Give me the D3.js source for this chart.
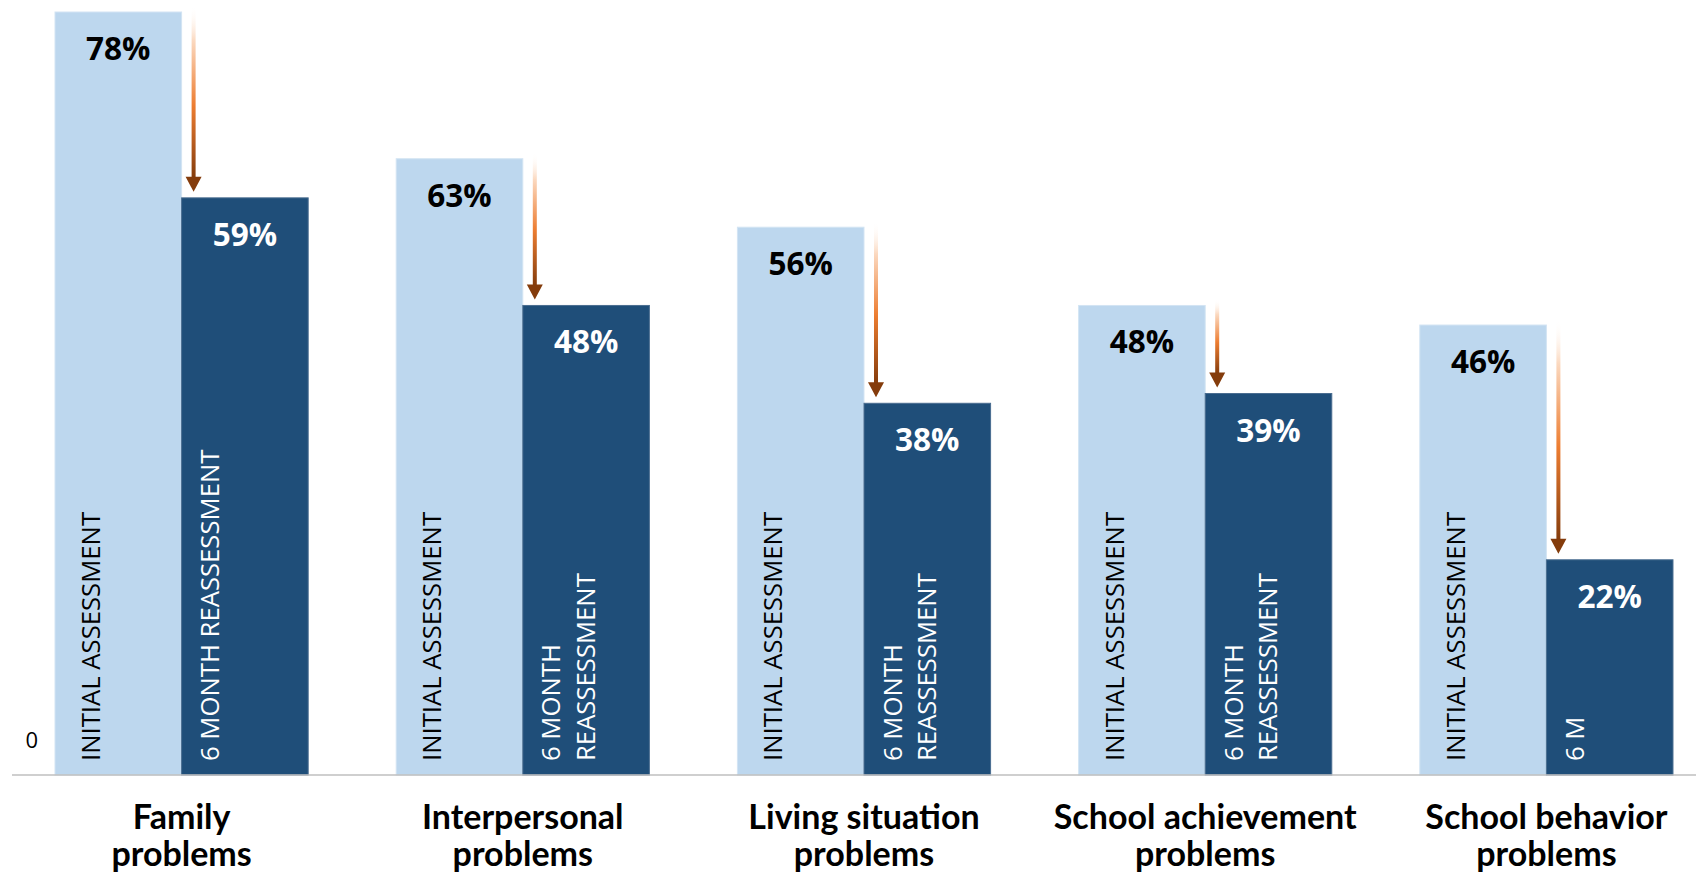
<!DOCTYPE html>
<html>
<head>
<meta charset="utf-8">
<script src="https://cdn.jsdelivr.net/npm/d3@7"></script>
<style>
  html, body { margin: 0; padding: 0; background: #ffffff; }
  svg { display: block; }
</style>
</head>
<body>
<svg id="chart" width="1696" height="873"></svg>
<script>
// Problem areas, assessed at intake and again after six months (percent of youth)
const categories = [
  "Family problems",
  "Interpersonal problems",
  "Living situation problems",
  "School achievement problems",
  "School behavior problems"
];
const categoryLines = [
  ["Family", "problems"],
  ["Interpersonal", "problems"],
  ["Living situation", "problems"],
  ["School achievement", "problems"],
  ["School behavior", "problems"]
];
const initialValues = [78, 63, 56, 48, 46];
const reassessValues = [59, 48, 38, 39, 22];
const seriesKeys = ["initial", "reassess"];
const initialLabel = "INITIAL ASSESSMENT";
// The in-bar series name wraps (or is cut off) where the bar is short
const reassessLabelLines = [
  ["6 MONTH REASSESSMENT"],
  ["6 MONTH", "REASSESSMENT"],
  ["6 MONTH", "REASSESSMENT"],
  ["6 MONTH", "REASSESSMENT"],
  ["6 M"]
];
const yTickValues = [0];

const svg = d3.select("#chart");
const baseY = 775;

const x0 = d3.scaleBand()
  .domain(categories)
  .range([11, 1717])
  .paddingInner(0.258)
  .paddingOuter(0.129);

const x1 = d3.scaleBand()
  .domain(seriesKeys)
  .range([0, x0.bandwidth()])
  .padding(0);

const y = d3.scaleLinear()
  .domain([0, 78])
  .range([baseY, 12]);

const colors = { initial: "#BDD7EE", reassess: "#1F4E79" };
const edge = { initial: "#d3e4f3", reassess: "#4a6d90" };

const rows = categories.map((c, i) => ({
  category: c,
  lines: categoryLines[i],
  initial: initialValues[i],
  reassess: reassessValues[i],
  reassessLines: reassessLabelLines[i]
}));

// Arrow gradient: fades from white at the top through orange to brown
const defs = svg.append("defs");
const grad = defs.append("linearGradient")
  .attr("id", "arrowFade")
  .attr("x1", 0).attr("y1", 0).attr("x2", 0).attr("y2", 1);
grad.append("stop").attr("offset", "0%").attr("stop-color", "#ffffff").attr("stop-opacity", 0);
grad.append("stop").attr("offset", "20%").attr("stop-color", "#fbd9c0");
grad.append("stop").attr("offset", "58%").attr("stop-color", "#ED7D31");
grad.append("stop").attr("offset", "100%").attr("stop-color", "#843C0C");

// Bars
const groups = svg.append("g").selectAll("g.group")
  .data(rows)
  .join("g")
  .attr("class", "group")
  .attr("transform", d => `translate(${x0(d.category)},0)`);

groups.selectAll("rect.bar")
  .data(d => seriesKeys.map(k => ({ key: k, value: d[k] })))
  .join("rect")
  .attr("class", "bar")
  .attr("x", d => x1(d.key))
  .attr("y", d => y(d.value))
  .attr("width", x1.bandwidth())
  .attr("height", d => y(0) - y(d.value))
  .attr("fill", d => colors[d.key])
  .attr("stroke", d => edge[d.key])
  .attr("stroke-width", 1);

// Value labels near the top of each bar
groups.selectAll("text.value")
  .data(d => seriesKeys.map(k => ({ key: k, value: d[k] })))
  .join("text")
  .attr("class", "value")
  .attr("x", d => x1(d.key) + x1.bandwidth() / 2)
  .attr("y", d => y(d.value) + 48)
  .attr("text-anchor", "middle")
  .attr("font-family", "'Open Sans', sans-serif")
  .attr("font-weight", 700)
  .attr("font-size", 31.5)
  .attr("fill", d => d.key === "initial" ? "#000000" : "#ffffff")
  .text(d => d.value + "%");

// Rotated series names inside the bars
const labelFont = "'Open Sans', sans-serif";
const labelSize = 25.7;
groups.append("text")
  .attr("transform", `translate(${x1("initial") + 35.5},761) rotate(-90)`)
  .attr("dominant-baseline", "central")
  .attr("font-family", labelFont)
  .attr("font-size", labelSize)
  .attr("fill", "#000000")
  .text(initialLabel);

groups.each(function (d) {
  const g = d3.select(this);
  d.reassessLines.forEach((line, j) => {
    g.append("text")
      .attr("transform", `translate(${x1("reassess") + 28 + j * 34.5},761) rotate(-90)`)
      .attr("dominant-baseline", "central")
      .attr("font-family", labelFont)
      .attr("font-size", labelSize)
      .attr("fill", "#ffffff")
      .text(line);
  });
});

// Change arrows from the initial level down to the reassessment level
const headW = 16, headH = 15, shaftW = 4;
groups.each(function (d) {
  const g = d3.select(this);
  const ax = x1("reassess") + 12;
  const yStart = Math.max(0, y(d.initial) - 6);
  const yTip = y(d.reassess) - 6;
  g.append("rect")
    .attr("x", ax - shaftW / 2)
    .attr("y", yStart)
    .attr("width", shaftW)
    .attr("height", yTip - headH - yStart + 1)
    .attr("fill", "url(#arrowFade)");
  g.append("path")
    .attr("d", `M${ax - headW / 2},${yTip - headH} L${ax + headW / 2},${yTip - headH} L${ax},${yTip} Z`)
    .attr("fill", "#843C0C");
});

// Baseline
svg.append("line")
  .attr("x1", 12).attr("x2", 1696)
  .attr("y1", y(0)).attr("y2", y(0))
  .attr("stroke", "#bfbfbf")
  .attr("stroke-width", 1.5);

// Value axis: only the zero tick label is shown
svg.append("g").selectAll("text")
  .data(yTickValues)
  .join("text")
  .attr("x", 38)
  .attr("y", d => y(d) - 27)
  .attr("text-anchor", "end")
  .attr("font-family", "'Open Sans', sans-serif")
  .attr("font-size", 22)
  .attr("fill", "#000000")
  .text(d => d);

// Category labels below the baseline
const catLabels = svg.append("g").selectAll("text")
  .data(rows)
  .join("text")
  .attr("x", d => x0(d.category) + x0.bandwidth() / 2)
  .attr("y", 829)
  .attr("text-anchor", "middle")
  .attr("font-family", "Lato, sans-serif")
  .attr("font-weight", 700)
  .attr("font-size", 34)
  .attr("fill", "#000000");

catLabels.selectAll("tspan")
  .data(d => d.lines)
  .join("tspan")
  .attr("x", function () { return d3.select(this.parentNode).attr("x"); })
  .attr("dy", (d, i) => i === 0 ? 0 : 37)
  .text(d => d);
</script>
</body>
</html>
